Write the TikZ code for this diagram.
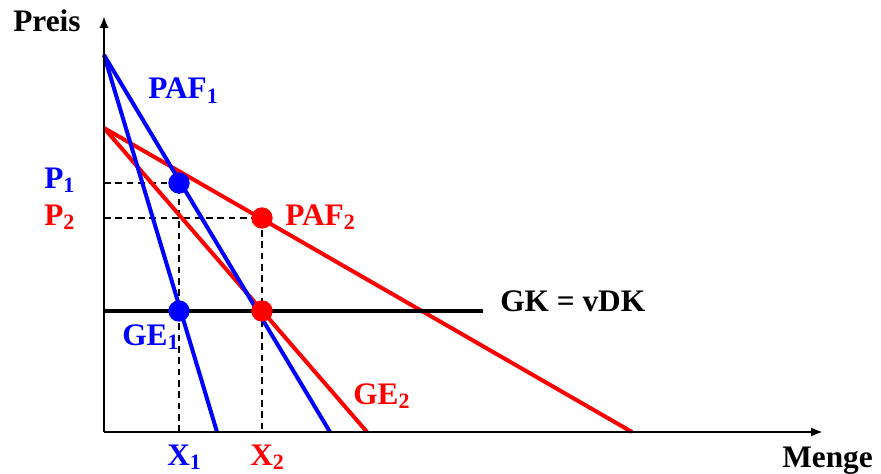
\documentclass[tikz,border=0pt]{standalone}
\usepackage{fontspec}
\setmainfont{Liberation Serif}
\usetikzlibrary{arrows.meta}
\definecolor{PafBlue}{RGB}{0,0,255}
\definecolor{PafRed}{RGB}{255,0,0}

\begin{document}
\begin{tikzpicture}[x=0.75pt,y=-0.75pt,
  every node/.style={font=\fontsize{23.5}{27}\selectfont\bfseries,inner sep=0pt,anchor=base west},
  axis/.style={line width=2.2pt,-{Latex[length=9pt,width=7pt]}},
  curve/.style={line width=3pt},
  guide/.style={line width=1.1pt,dash pattern=on 5pt off 3.5pt},
  dot/.style={circle,fill,minimum size=16pt,inner sep=0pt,anchor=center}]
  \useasboundingbox (0,0) rectangle (881,474);
  % axes
  \coordinate (O) at (104,432);
  \coordinate (ytop) at (104,16);
  \coordinate (xend) at (823,432);
  % curve end points
  \coordinate (Btop) at (104,55);
  \coordinate (Rtop) at (104,128);
  \coordinate (GEone) at (217,432);
  \coordinate (PAFone) at (330,432);
  \coordinate (GEtwo) at (367,432);
  \coordinate (PAFtwo) at (632,432);
  \coordinate (Pone) at (104,183);
  \coordinate (Ptwo) at (104,218);
  \coordinate (Xone) at (179,432);
  \coordinate (Xtwo) at (262,432);
  \coordinate (GKl) at (104,311);
  \coordinate (GKr) at (483,311);

  % dashed guides
  \draw[guide] (Pone) -- (179,183) -- (Xone);
  \draw[guide] (Ptwo) -- (262,218) -- (Xtwo);

  % lines
  \draw[curve,PafRed] (Rtop) -- (PAFtwo);
  \draw[curve,PafRed] (Rtop) -- (GEtwo);
  \draw[curve,PafBlue] (Btop) -- (GEone);
  \draw[curve,PafBlue] (Btop) -- (PAFone);
  \draw[curve,black] (GKl) -- (GKr);
  \draw[axis] (O) -- (ytop);
  \draw[axis] (O) -- (xend);

  % points
  \node[dot,PafBlue] (Aone) at (179,183) {};
  \node[dot,PafBlue] (Bone) at (179,311) {};
  \node[dot,PafRed] (Atwo) at (262,218) {};
  \node[dot,PafRed] (Btwo) at (262,311) {};

  % labels
  \node (preis) at (13,32) {Preis};
  \node (menge) at (782,467) {Menge};
  \node[PafBlue] (paf1) at (148,99) {PAF\textsubscript{1}};
  \node[PafRed] (paf2) at (285,225) {PAF\textsubscript{2}};
  \node[PafBlue] (p1) at (44,188) {P\textsubscript{1}};
  \node[PafRed] (p2) at (44,225) {P\textsubscript{2}};
  \node[PafBlue] (ge1) at (122,345) {GE\textsubscript{1}};
  \node[PafRed] (ge2) at (353,404) {GE\textsubscript{2}};
  \node[PafBlue] (x1) at (167,465) {X\textsubscript{1}};
  \node[PafRed] (x2) at (250,465) {X\textsubscript{2}};
  \node (gk) at (500,311) {GK = vDK};
\end{tikzpicture}
\end{document}
